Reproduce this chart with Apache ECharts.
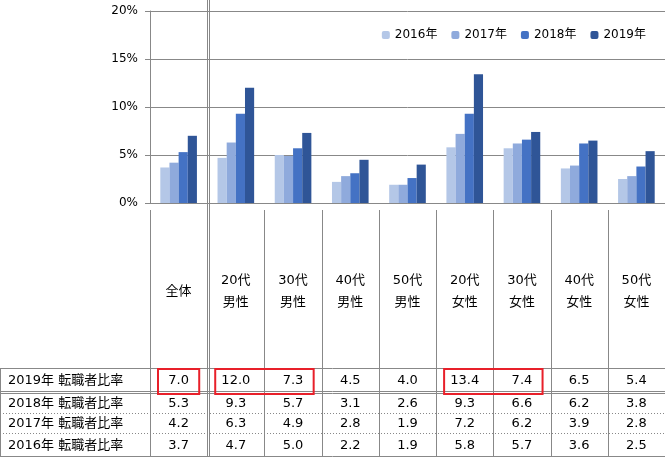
<!DOCTYPE html>
<html><head><meta charset="utf-8">
<script src="https://cdn.jsdelivr.net/npm/echarts@6/dist/echarts.min.js"></script>
<style>html,body{margin:0;padding:0;background:#fff}#main{width:665px;height:459px}</style>
</head><body><div id="main"></div>
<script>
var categories = ['全体', '20代\n男性', '30代\n男性', '40代\n男性', '50代\n男性', '20代\n女性', '30代\n女性', '40代\n女性', '50代\n女性']
var years = ['2016年', '2017年', '2018年', '2019年']
var v2016 = [3.7, 4.7, 5.0, 2.2, 1.9, 5.8, 5.7, 3.6, 2.5]
var v2017 = [4.2, 6.3, 4.9, 2.8, 1.9, 7.2, 6.2, 3.9, 2.8]
var v2018 = [5.3, 9.3, 5.7, 3.1, 2.6, 9.3, 6.6, 6.2, 3.8]
var v2019 = [7.0, 12.0, 7.3, 4.5, 4.0, 13.4, 7.4, 6.5, 5.4]
var rowNames = ['2019年 転職者比率', '2018年 転職者比率', '2017年 転職者比率', '2016年 転職者比率']
var highlight = [[0, 0], [1, 2], [5, 6]]  // ranges of columns boxed in red

var colors = ['#b4c7e7', '#8faadc', '#4472c4', '#2f5597']
var font = '"DejaVu Sans","Noto Sans CJK JP",sans-serif'
var gray = '#888'

var myChart = echarts.init(document.getElementById('main'))
var allVals = [v2016, v2017, v2018, v2019]
var option = {
  animation: false,
  textStyle: {fontFamily: font},
  color: colors,
  grid: {left: 150, right: 0, top: 11, bottom: 256},
  legend: {
    data: years, top: 24, right: 14, itemWidth: 8, itemHeight: 8, itemGap: 14,
    textStyle: {fontSize: 12, color: '#000', fontFamily: font}
  },
  xAxis: {
    type: 'category', data: categories, boundaryGap: true,
    axisLine: {lineStyle: {color: gray}}, axisTick: {show: false}, axisLabel: {show: false}
  },
  yAxis: {
    type: 'value', min: 0, max: 20, interval: 5,
    axisLabel: {formatter: '{value}%', fontSize: 12, color: '#000', margin: 12},
    axisLine: {show: true, lineStyle: {color: gray}},
    axisTick: {show: true, length: 5, lineStyle: {color: gray}},
    splitLine: {lineStyle: {color: gray}}
  },
  series: years.map(function (y, i) {
    return {name: y, type: 'bar', data: allVals[i], barGap: '0%', barCategoryGap: '36%'}
  })
}
myChart.setOption(option)

// table below the chart
var g = []
var x0 = myChart.convertToPixel({xAxisIndex: 0}, 0)
var x1 = myChart.convertToPixel({xAxisIndex: 0}, 1)
var cw = x1 - x0
var left = x0 - cw / 2
var rowY = [368, 392, 413, 433, 456]
function line(xa, ya, xb, yb, dash) {
  g.push({type: 'line', shape: {x1: xa, y1: ya, x2: xb, y2: yb},
    style: {stroke: gray, lineWidth: 1, lineDash: dash || null}})
}
for (var c = 0; c <= categories.length; c++) {
  var bx = Math.round(left + c * cw) + 0.5
  line(bx, c === 1 ? 0 : 210, bx, rowY[4])
  if (c === 1) line(bx + 2, 0, bx + 2, rowY[4])
}
line(0, rowY[0] + 0.5, 665, rowY[0] + 0.5)
line(0, rowY[1] - 0.5, 665, rowY[1] - 0.5)
line(0, rowY[1] + 1.5, 665, rowY[1] + 1.5)
line(0, rowY[2] + 0.5, 665, rowY[2] + 0.5, [1, 2])
line(0, rowY[3] + 0.5, 665, rowY[3] + 0.5, [1, 2])
line(0, rowY[4] + 0.5, 665, rowY[4] + 0.5)
line(0.5, rowY[0], 0.5, rowY[4])

categories.forEach(function (cat, i) {
  var cx = left + (i + 0.5) * cw
  g.push({type: 'text', x: cx, y: 292, style: {text: cat, fontSize: 13, lineHeight: 22,
    fontFamily: font, fill: '#000', align: 'center', verticalAlign: 'middle'}})
  var rows = [v2019, v2018, v2017, v2016]
  rows.forEach(function (r, k) {
    g.push({type: 'text', x: cx, y: (rowY[k] + rowY[k + 1]) / 2 + 1, style: {text: r[i].toFixed(1),
      fontSize: 13, fontFamily: font, fill: '#000', align: 'center', verticalAlign: 'middle'}})
  })
})
rowNames.forEach(function (n, k) {
  g.push({type: 'text', x: 8, y: (rowY[k] + rowY[k + 1]) / 2 + 1, style: {text: n,
    fontSize: 13, fontFamily: font, fill: '#000', align: 'left', verticalAlign: 'middle'}})
})
highlight.forEach(function (h) {
  var xa = left + h[0] * cw + 8, xb = left + (h[1] + 1) * cw - 8
  g.push({type: 'rect', shape: {x: xa, y: 369, width: xb - xa, height: 25},
    style: {fill: 'none', stroke: '#e8202a', lineWidth: 2}})
})
myChart.setOption({graphic: g})
</script>
</body></html>
